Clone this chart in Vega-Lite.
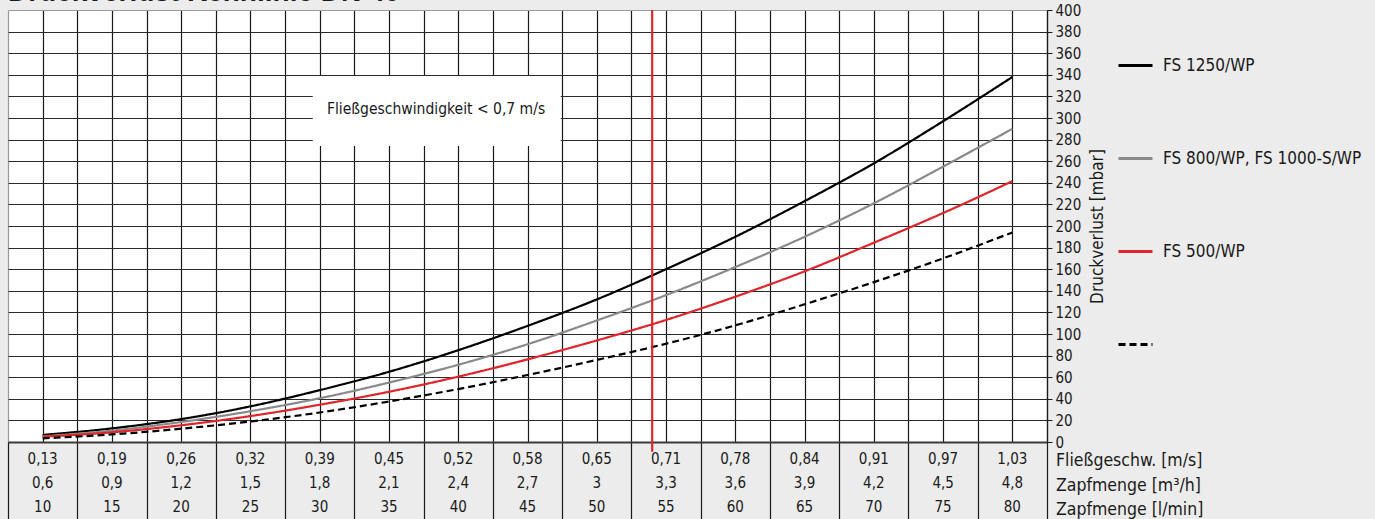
{
  "$schema": "https://vega.github.io/schema/vega-lite/v6.json",
  "autosize": {"type": "none"},
  "width": 1039,
  "height": 432,
  "padding": {"left": 8, "top": 10, "right": 328, "bottom": 77},
  "background": "#ebeceb",
  "config": {
    "view": {"fill": "white", "stroke": null},
    "font": "DejaVu Sans Condensed, Roboto, sans-serif",
    "text": {"font": "DejaVu Sans Condensed, Roboto, sans-serif", "color": "#1a1a1a"}
  },
  "datasets": {
    "curves": [
      {"l": 10, "s": "FS 1250/WP", "p": 6.5}, {"l": 15, "s": "FS 1250/WP", "p": 12.6}, {"l": 20, "s": "FS 1250/WP", "p": 21.2},
      {"l": 25, "s": "FS 1250/WP", "p": 33}, {"l": 30, "s": "FS 1250/WP", "p": 48}, {"l": 35, "s": "FS 1250/WP", "p": 65},
      {"l": 40, "s": "FS 1250/WP", "p": 85}, {"l": 45, "s": "FS 1250/WP", "p": 107.5}, {"l": 50, "s": "FS 1250/WP", "p": 132},
      {"l": 55, "s": "FS 1250/WP", "p": 160}, {"l": 60, "s": "FS 1250/WP", "p": 190}, {"l": 65, "s": "FS 1250/WP", "p": 223},
      {"l": 70, "s": "FS 1250/WP", "p": 258}, {"l": 75, "s": "FS 1250/WP", "p": 297}, {"l": 80, "s": "FS 1250/WP", "p": 338},
      {"l": 10, "s": "FS 800/WP, FS 1000-S/WP", "p": 5.2}, {"l": 15, "s": "FS 800/WP, FS 1000-S/WP", "p": 10.5}, {"l": 20, "s": "FS 800/WP, FS 1000-S/WP", "p": 18.5},
      {"l": 25, "s": "FS 800/WP, FS 1000-S/WP", "p": 28.5}, {"l": 30, "s": "FS 800/WP, FS 1000-S/WP", "p": 40.5}, {"l": 35, "s": "FS 800/WP, FS 1000-S/WP", "p": 55},
      {"l": 40, "s": "FS 800/WP, FS 1000-S/WP", "p": 71.5}, {"l": 45, "s": "FS 800/WP, FS 1000-S/WP", "p": 90.5}, {"l": 50, "s": "FS 800/WP, FS 1000-S/WP", "p": 112.5},
      {"l": 55, "s": "FS 800/WP, FS 1000-S/WP", "p": 136}, {"l": 60, "s": "FS 800/WP, FS 1000-S/WP", "p": 162}, {"l": 65, "s": "FS 800/WP, FS 1000-S/WP", "p": 190},
      {"l": 70, "s": "FS 800/WP, FS 1000-S/WP", "p": 221}, {"l": 75, "s": "FS 800/WP, FS 1000-S/WP", "p": 255}, {"l": 80, "s": "FS 800/WP, FS 1000-S/WP", "p": 290},
      {"l": 10, "s": "FS 500/WP", "p": 4.9}, {"l": 15, "s": "FS 500/WP", "p": 9}, {"l": 20, "s": "FS 500/WP", "p": 15.5},
      {"l": 25, "s": "FS 500/WP", "p": 24}, {"l": 30, "s": "FS 500/WP", "p": 34.5}, {"l": 35, "s": "FS 500/WP", "p": 46.5},
      {"l": 40, "s": "FS 500/WP", "p": 60.5}, {"l": 45, "s": "FS 500/WP", "p": 76.5}, {"l": 50, "s": "FS 500/WP", "p": 94},
      {"l": 55, "s": "FS 500/WP", "p": 113}, {"l": 60, "s": "FS 500/WP", "p": 134.5}, {"l": 65, "s": "FS 500/WP", "p": 158},
      {"l": 70, "s": "FS 500/WP", "p": 184.5}, {"l": 75, "s": "FS 500/WP", "p": 212}, {"l": 80, "s": "FS 500/WP", "p": 241.5},
      {"l": 10, "s": "ohne Angabe", "p": 3.4}, {"l": 15, "s": "ohne Angabe", "p": 7}, {"l": 20, "s": "ohne Angabe", "p": 12.3},
      {"l": 25, "s": "ohne Angabe", "p": 19}, {"l": 30, "s": "ohne Angabe", "p": 27.3}, {"l": 35, "s": "ohne Angabe", "p": 37.5},
      {"l": 40, "s": "ohne Angabe", "p": 49}, {"l": 45, "s": "ohne Angabe", "p": 62}, {"l": 50, "s": "ohne Angabe", "p": 76},
      {"l": 55, "s": "ohne Angabe", "p": 91}, {"l": 60, "s": "ohne Angabe", "p": 108}, {"l": 65, "s": "ohne Angabe", "p": 127.5},
      {"l": 70, "s": "ohne Angabe", "p": 148}, {"l": 75, "s": "ohne Angabe", "p": 170}, {"l": 80, "s": "ohne Angabe", "p": 194}
    ],
    "table": [
      {"l": 10, "v": "0,13", "q": "0,6"}, {"l": 15, "v": "0,19", "q": "0,9"}, {"l": 20, "v": "0,26", "q": "1,2"},
      {"l": 25, "v": "0,32", "q": "1,5"}, {"l": 30, "v": "0,39", "q": "1,8"}, {"l": 35, "v": "0,45", "q": "2,1"},
      {"l": 40, "v": "0,52", "q": "2,4"}, {"l": 45, "v": "0,58", "q": "2,7"}, {"l": 50, "v": "0,65", "q": "3"},
      {"l": 55, "v": "0,71", "q": "3,3"}, {"l": 60, "v": "0,78", "q": "3,6"}, {"l": 65, "v": "0,84", "q": "3,9"},
      {"l": 70, "v": "0,91", "q": "4,2"}, {"l": 75, "v": "0,97", "q": "4,5"}, {"l": 80, "v": "1,03", "q": "4,8"}
    ]
  },
  "layer": [
    {
      "data": {"name": "curves"},
      "mark": {"type": "line", "interpolate": "monotone", "strokeWidth": 2.2},
      "encoding": {
        "x": {
          "field": "l", "type": "quantitative",
          "scale": {"domain": [7.5, 82.5], "nice": false, "zero": false},
          "axis": {
            "orient": "bottom", "title": null, "labels": false, "tickCount": 200,
            "values": [7.5, 10, 12.5, 15, 17.5, 20, 22.5, 25, 27.5, 30, 32.5, 35, 37.5, 40, 42.5, 45, 47.5, 50, 52.5, 55, 57.5, 60, 62.5, 65, 67.5, 70, 72.5, 75, 77.5, 80, 82.5],
            "grid": true, "gridColor": {"condition": {"test": "datum.value == 7.5", "value": "#9a9a9a"}, "value": "#1a1a1a"}, "gridWidth": 1.2, "gridOpacity": 1,
            "domain": true, "domainColor": "#3a3a3a", "domainWidth": 2.2,
            "ticks": true, "tickSize": 80, "tickColor": "#1a1a1a", "tickWidth": 1.2,
            "tickOpacity": {"condition": {"test": "datum.value % 5 == 2.5", "value": 1}, "value": 0}
          }
        },
        "y": {
          "field": "p", "type": "quantitative",
          "scale": {"domain": [0, 400], "nice": false, "zero": false},
          "axis": {
            "orient": "right", "title": "Druckverlust [mbar]", "tickCount": 200,
            "values": [0, 20, 40, 60, 80, 100, 120, 140, 160, 180, 200, 220, 240, 260, 280, 300, 320, 340, 360, 380, 400],
            "labelOverlap": false,
            "grid": true, "gridColor": {"condition": {"test": "datum.value == 400", "value": "#9a9a9a"}, "value": "#2a2a2a"}, "gridWidth": 1.2, "gridOpacity": 1,
            "domain": true, "domainColor": "#1a1a1a", "domainWidth": 1.2,
            "ticks": true, "tickSize": 5, "tickColor": "#1a1a1a", "tickWidth": 1,
            "labelFontSize": 15, "labelColor": "#1a1a1a", "labelPadding": 3, "labelFont": "DejaVu Sans Condensed, Roboto, sans-serif",
            "titleFontSize": 17, "titleFontWeight": "normal", "titleColor": "#1a1a1a", "titleAngle": 270,
            "titleX": 50, "titleY": 216, "titleAlign": "center", "titleBaseline": "middle",
            "titleFont": "DejaVu Sans Condensed, Roboto, sans-serif"
          }
        },
        "color": {
          "field": "s", "type": "nominal",
          "scale": {"domain": ["FS 1250/WP", "FS 800/WP, FS 1000-S/WP", "FS 500/WP", "ohne Angabe"], "range": ["#000000", "#8a8a8a", "#e2252c", "#000000"]},
          "legend": {
            "orient": "none", "legendX": 1109, "legendY": 37, "direction": "vertical", "title": null,
            "symbolType": "stroke", "symbolSize": 1156, "symbolStrokeWidth": 3, "padding": 0,
            "labelFontSize": 17, "labelOffset": 9, "rowPadding": 66, "labelColor": "#1a1a1a", "labelLimit": 400,
            "labelFont": "DejaVu Sans Condensed, Roboto, sans-serif",
            "labelExpr": "datum.label == 'ohne Angabe' ? '' : datum.label"
          }
        },
        "strokeDash": {
          "field": "s", "type": "nominal",
          "scale": {"domain": ["FS 1250/WP", "FS 800/WP, FS 1000-S/WP", "FS 500/WP", "ohne Angabe"], "range": [[1, 0], [1, 0], [1, 0], [7, 4]]},
          "legend": {
            "orient": "none", "legendX": 1109, "legendY": 37, "direction": "vertical", "title": null,
            "symbolType": "stroke", "symbolSize": 1156, "symbolStrokeWidth": 3, "padding": 0,
            "labelFontSize": 17, "labelOffset": 9, "rowPadding": 66, "labelColor": "#1a1a1a", "labelLimit": 400,
            "labelFont": "DejaVu Sans Condensed, Roboto, sans-serif",
            "labelExpr": "datum.label == 'ohne Angabe' ? '' : datum.label"
          }
        }
      }
    },
    {
      "data": {"values": [{"t": "Fließgeschwindigkeit < 0,7 m/s"}]},
      "mark": {"type": "rect", "color": "white"},
      "encoding": {
        "x": {"datum": 29.5}, "x2": {"datum": 47.4},
        "y": {"datum": 274}, "y2": {"datum": 339}
      }
    },
    {
      "data": {"values": [{"t": "Fließgeschwindigkeit < 0,7 m/s"}]},
      "mark": {"type": "text", "fontSize": 15.5, "align": "center", "baseline": "middle"},
      "encoding": {
        "x": {"datum": 38.4}, "y": {"datum": 308},
        "text": {"field": "t"}
      }
    },
    {
      "data": {"values": [{"t": "0,7 m/s"}]},
      "mark": {"type": "rule", "color": "#e2252c", "strokeWidth": 2.2},
      "encoding": {"x": {"datum": 54}, "y": {"datum": -9}, "y2": {"datum": 400}}
    },
    {
      "data": {"name": "table"},
      "mark": {"type": "text", "fontSize": 15, "align": "center", "baseline": "middle"},
      "encoding": {"x": {"field": "l", "type": "quantitative"}, "y": {"datum": -15.3}, "text": {"field": "v"}}
    },
    {
      "data": {"name": "table"},
      "mark": {"type": "text", "fontSize": 15, "align": "center", "baseline": "middle"},
      "encoding": {"x": {"field": "l", "type": "quantitative"}, "y": {"datum": -38}, "text": {"field": "q"}}
    },
    {
      "data": {"name": "table"},
      "mark": {"type": "text", "fontSize": 15, "align": "center", "baseline": "middle"},
      "encoding": {"x": {"field": "l", "type": "quantitative"}, "y": {"datum": -60.6}, "text": {"field": "l", "type": "quantitative"}}
    },
    {
      "data": {"values": [{"t": "Fließgeschw. [m/s]"}]},
      "mark": {"type": "text", "fontSize": 17.5, "align": "left", "baseline": "middle", "dx": 9},
      "encoding": {"x": {"datum": 82.5}, "y": {"datum": -17.6}, "text": {"field": "t"}}
    },
    {
      "data": {"values": [{"t": "Zapfmenge [m³/h]"}]},
      "mark": {"type": "text", "fontSize": 17.5, "align": "left", "baseline": "middle", "dx": 9},
      "encoding": {"x": {"datum": 82.5}, "y": {"datum": -40.3}, "text": {"field": "t"}}
    },
    {
      "data": {"values": [{"t": "Zapfmenge [l/min]"}]},
      "mark": {"type": "text", "fontSize": 17.5, "align": "left", "baseline": "middle", "dx": 9},
      "encoding": {"x": {"datum": 82.5}, "y": {"datum": -63}, "text": {"field": "t"}}
    },
    {
      "data": {"values": [{"t": "Druckverlust Kennlinie DN 40"}]},
      "mark": {"type": "text", "fontSize": 28, "fontWeight": "bold", "align": "left", "baseline": "alphabetic", "dy": -9, "font": "Liberation Sans, Roboto, sans-serif"},
      "encoding": {"x": {"datum": 7.5}, "y": {"datum": 400}, "text": {"field": "t"}}
    }
  ]
}
